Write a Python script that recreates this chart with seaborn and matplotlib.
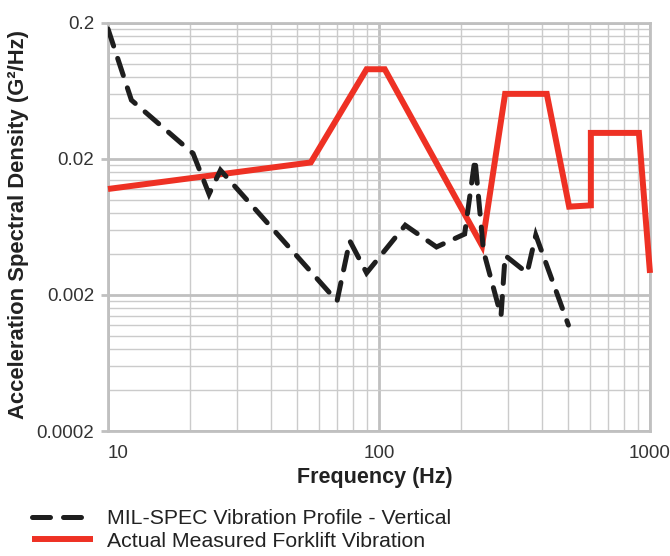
import matplotlib
matplotlib.use("Agg")
import matplotlib.pyplot as plt
import seaborn as sns
import numpy as np
from matplotlib.ticker import NullFormatter

# ---- data ----
mil_freq = [10, 12.2, 20.6, 23.6, 26, 70, 78, 90, 125, 163, 207, 226, 243, 282, 292, 352, 379, 500]
mil_psd = [0.18, 0.054, 0.0219, 0.011, 0.0165, 0.0018, 0.0050, 0.0029, 0.0065, 0.0045,
           0.0056, 0.020, 0.0042, 0.0014, 0.0039, 0.0029, 0.0055, 0.0012]

fork_freq = [10, 56, 90, 105, 240, 292, 416, 503, 605, 605, 910, 1000]
fork_psd = [0.012, 0.0188, 0.091, 0.091, 0.0046, 0.060, 0.060, 0.0089, 0.0091, 0.031, 0.031, 0.0029]

mil_label = "MIL-SPEC Vibration Profile - Vertical"
fork_label = "Actual Measured Forklift Vibration"

x_ticks = [10, 100, 1000]
x_tick_labels = ["10", "100", "1000"]
y_ticks = [0.0002, 0.002, 0.02, 0.2]
y_tick_labels = ["0.0002", "0.002", "0.02", "0.2"]

x_label = "Frequency (Hz)"
y_label = "Acceleration Spectral Density (G²/Hz)"

# ---- style ----
sns.set_theme(style="white")
plt.rcParams['font.family'] = ['Liberation Sans', 'DejaVu Sans']

RED = "#ee3124"
BLACK = "#1e1e1e"
GRID = "#cbcbcb"
GRID_MAJOR = "#c0c0c0"

W, H = 670, 556
fig = plt.figure(figsize=(W / 100, H / 100), dpi=100)
ax = fig.add_axes([108 / W, 1 - 431 / H, (650 - 108) / W, (431 - 22.7) / H])

sns.lineplot(x=fork_freq, y=fork_psd, ax=ax, color=RED, linewidth=4.3,
             sort=False, estimator=None, label=fork_label,
             solid_joinstyle='miter', solid_capstyle='butt', clip_on=False, zorder=3)
sns.lineplot(x=mil_freq, y=mil_psd, ax=ax, color=BLACK, linewidth=3.6,
             sort=False, estimator=None, label=mil_label,
             linestyle=(0, (3.6, 2.6)), dash_capstyle='round', dash_joinstyle='miter',
             zorder=4)

ax.set_xscale('log')
ax.set_yscale('log')
ax.set_xlim(10, 1000)
ax.set_ylim(0.0002, 0.2)

ax.set_xticks(x_ticks, x_tick_labels)
x_minor = [d * k for d in (10, 100) for k in range(2, 10)]
ax.set_xticks(x_minor, minor=True)
ax.xaxis.set_minor_formatter(NullFormatter())

ax.set_yticks(y_ticks, y_tick_labels)
y_minor = [b * k for b in (0.0002, 0.002, 0.02) for k in range(2, 10)]
ax.set_yticks(y_minor, minor=True)
ax.yaxis.set_minor_formatter(NullFormatter())

ax.grid(which='minor', color=GRID, linewidth=1.0, zorder=0)
ax.grid(which='major', color=GRID_MAJOR, linewidth=2.0, zorder=0)
ax.set_axisbelow(True)

for s in ax.spines.values():
    s.set_color(GRID_MAJOR)
    s.set_linewidth(2.0)

ax.tick_params(axis='y', which='major', length=5, width=2, color=GRID_MAJOR,
               pad=5, labelsize=13.5, labelcolor="#333333", left=True)
ax.tick_params(axis='y', which='minor', length=0)
ax.tick_params(axis='x', which='both', length=0, pad=10, labelsize=13.5,
               labelcolor="#333333")
xl = ax.get_xticklabels()
xl[0].set_horizontalalignment('left')

ax.set_xlabel("")
ax.set_ylabel("")
fig.text(375 / W, 1 - 477 / H, x_label, ha='center', va='center',
         fontsize=15.5, fontweight='bold', color="#222222")
fig.text(19 / W, 1 - 225 / H, y_label, ha='center', va='center', rotation=90,
         fontsize=15.8, fontweight='bold', color="#222222")

handles, labels = ax.get_legend_handles_labels()
ax.legend(handles[::-1], labels[::-1], loc='upper left',
          bbox_to_anchor=(32 / W, 1 - 509 / H), bbox_transform=fig.transFigure,
          frameon=False, fontsize=15.3, handlelength=2.88, handletextpad=0.66,
          labelspacing=0.18, borderaxespad=0, borderpad=0, labelcolor="#222222")

fig.savefig("out.png", dpi=100)
